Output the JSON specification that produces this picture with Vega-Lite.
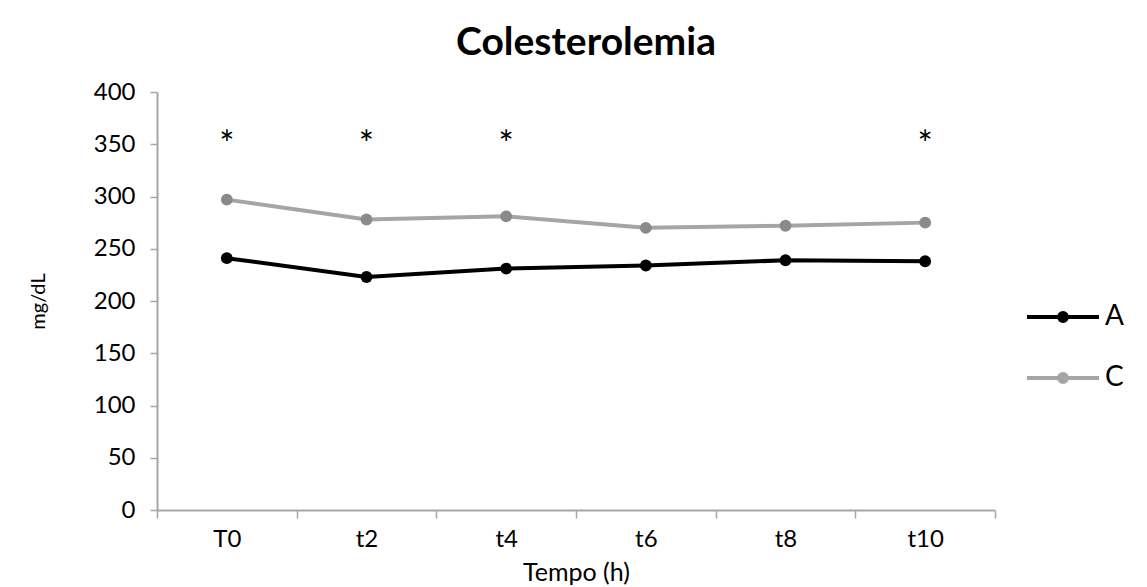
{
  "$schema": "https://vega.github.io/schema/vega-lite/v6.json",
  "width": 838,
  "height": 418,
  "autosize": {"type": "none"},
  "padding": {"left": 157, "top": 92, "right": 152, "bottom": 77},
  "background": "white",
  "config": {"font": "Lato", "view": {"stroke": null}},
  "title": {"text": "Colesterolemia", "fontSize": 39, "fontWeight": "bold", "font": "Lato", "color": "#000000", "anchor": "middle", "dx": 10, "offset": 17},
  "datasets": {
    "series": [
      {"tempo": "T0", "grupo": "A", "value": 241},
      {"tempo": "t2", "grupo": "A", "value": 223},
      {"tempo": "t4", "grupo": "A", "value": 231},
      {"tempo": "t6", "grupo": "A", "value": 234},
      {"tempo": "t8", "grupo": "A", "value": 239},
      {"tempo": "t10", "grupo": "A", "value": 238},
      {"tempo": "T0", "grupo": "C", "value": 297},
      {"tempo": "t2", "grupo": "C", "value": 278},
      {"tempo": "t4", "grupo": "C", "value": 281},
      {"tempo": "t6", "grupo": "C", "value": 270},
      {"tempo": "t8", "grupo": "C", "value": 272},
      {"tempo": "t10", "grupo": "C", "value": 275}
    ],
    "sig": [
      {"tempo": "T0", "value": 348, "mark": "*"},
      {"tempo": "t2", "value": 348, "mark": "*"},
      {"tempo": "t4", "value": 348, "mark": "*"},
      {"tempo": "t10", "value": 348, "mark": "*"}
    ]
  },
  "encoding": {
    "x": {"field": "tempo", "type": "ordinal", "sort": ["T0", "t2", "t4", "t6", "t8", "t10"],
      "scale": {"type": "band", "paddingInner": 0, "paddingOuter": 0},
      "axis": {"title": "Tempo (h)", "orient": "bottom", "tickBand": "extent", "labelAngle": 0, "grid": false,
        "domainColor": "#a6a6a6", "domainWidth": 2, "tickColor": "#a6a6a6", "tickWidth": 1.5, "tickSize": 8,
        "labelFontSize": 24, "labelColor": "#000000", "labelPadding": 9,
        "titleFontSize": 25, "titleFontWeight": "normal", "titleColor": "#000000", "titlePadding": 9}},
    "y": {"field": "value", "type": "quantitative", "scale": {"domain": [0, 400]},
      "axis": {"title": "mg/dL", "orient": "left", "values": [0, 50, 100, 150, 200, 250, 300, 350, 400], "grid": false,
        "domainColor": "#a6a6a6", "domainWidth": 2, "tickColor": "#a6a6a6", "tickWidth": 1.5, "tickSize": 7,
        "labelFontSize": 24, "labelColor": "#000000", "labelPadding": 15,
        "titleFontSize": 20, "titleFontWeight": "normal", "titleColor": "#000000", "titlePadding": 45}}
  },
  "layer": [
    {
      "data": {"name": "series"},
      "mark": {"type": "line", "strokeWidth": 4},
      "encoding": {
        "stroke": {"field": "grupo", "type": "nominal", "scale": {"domain": ["A", "C"], "range": ["#000000", "#a5a5a5"]},
          "legend": {"title": null, "orient": "none", "legendX": 886, "legendY": 205, "padding": 0,
            "symbolType": "M-2,0H2M-0.22,0A0.22,0.22,0,1,0,0.22,0A0.22,0.22,0,1,0,-0.22,0Z",
            "symbolSize": 1296, "symbolStrokeWidth": 4, "rowPadding": 27, "labelOffset": 22,
            "labelFontSize": 28, "labelColor": "#000000"}}
      }
    },
    {
      "data": {"name": "series"},
      "mark": {"type": "point", "filled": true, "size": 140, "opacity": 1},
      "encoding": {
        "fill": {"field": "grupo", "type": "nominal", "scale": {"domain": ["A", "C"], "range": ["#000000", "#8a8a8a"]}, "legend": null}
      }
    },
    {
      "data": {"name": "sig"},
      "mark": {"type": "text", "fontSize": 36, "baseline": "middle", "color": "#000000", "font": "Lato"},
      "encoding": {
        "text": {"field": "mark"}
      }
    }
  ]
}
